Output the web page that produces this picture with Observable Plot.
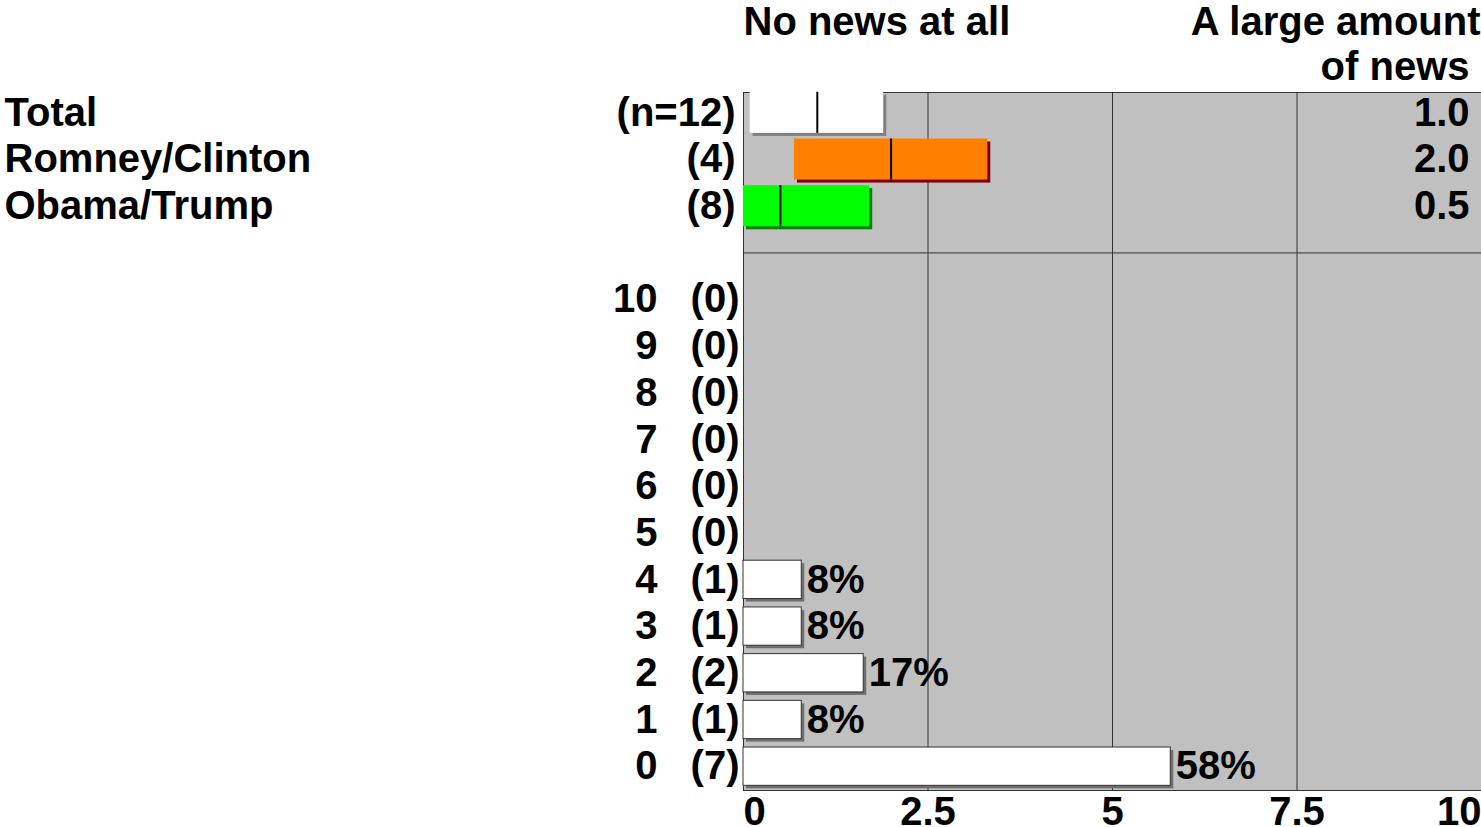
<!DOCTYPE html>
<html>
<head>
<meta charset="utf-8">
<script src="https://cdn.jsdelivr.net/npm/d3@7"></script>
<script src="https://cdn.jsdelivr.net/npm/@observablehq/plot@0.6"></script>
<style>
  html, body { margin: 0; padding: 0; background: #ffffff; }
  #chart svg { display: block; }
</style>
</head>
<body>
<div id="chart"></div>
<script>
// ---- Data ----
const groups = ["Total", "Romney/Clinton", "Obama/Trump"];
const groupN = ["(n=12)", "(4)", "(8)"];
const groupMean = [1.0, 2.0, 0.5];
const groupLow = [0.09, 0.69, 0.0];
const groupHigh = [1.9, 3.31, 1.71];

const scores = [10, 9, 8, 7, 6, 5, 4, 3, 2, 1, 0];
const counts = [0, 0, 0, 0, 0, 0, 1, 1, 2, 1, 7];
const percents = [0, 0, 0, 0, 0, 0, 8.3, 8.3, 16.7, 8.3, 58.3];

const tickValues = [0, 2.5, 5, 7.5, 10];
const tickLabels = ["0", "2.5", "5", "7.5", "10"];

const headerLeft = "No news at all";
const headerRight1 = "A large amount";
const headerRight2 = "of news";

// ---- Styles ----
const groupFills = ["#ffffff", "#ff8000", "#00ff00"];
const groupShadows = ["#808080", "#800000", "#008000"];
const FONT = "Liberation Sans, Arial, Helvetica, sans-serif";
const FS = 40;

// ---- Tables built from the arrays ----
const groupData = groups.map((name, i) => ({
  name, n: groupN[i], mean: groupMean[i], low: groupLow[i], high: groupHigh[i],
  row: i, fill: groupFills[i], shadow: groupShadows[i]
}));
const histData = scores.map((s, i) => ({
  score: s, count: counts[i], pct: percents[i], row: 4 + i
}));
const histBars = histData.filter(d => d.count > 0);
const ticks = tickValues.map((v, i) => ({v, label: tickLabels[i]}));

const txt = {fontFamily: FONT, fontSize: FS, fontWeight: "bold", fill: "black"};

const chart = Plot.plot({
  width: 1481,
  height: 827,
  marginLeft: 743,
  marginRight: 0,
  marginTop: 92,
  marginBottom: 37,
  style: {background: "white", overflow: "visible"},
  x: {domain: [0, 10], axis: null},
  y: {type: "linear", domain: [-0.435, 14.51], range: [92, 790], axis: null},
  color: {type: "identity"},
  marks: [
    // background
    Plot.frame({fill: "#c0c0c0", stroke: "none"}),
    // gridlines
    Plot.ruleX([2.5, 5, 7.5], {stroke: "#333333", strokeWidth: 1}),
    // borders
    Plot.ruleX([0], {stroke: "#333333", strokeWidth: 1}),
    Plot.ruleY([-0.435, 3, 14.51], {stroke: "#333333", strokeWidth: 1}),

    // group boxes: shadow, box, median
    Plot.rect(groupData, {x1: "low", x2: "high", y1: d => d.row - 0.44, y2: d => d.row + 0.44,
      fill: "shadow", dx: 3, dy: 3}),
    Plot.rect(groupData, {x1: "low", x2: "high", y1: d => d.row - 0.44, y2: d => d.row + 0.44,
      fill: "fill"}),
    Plot.ruleX(groupData, {x: "mean", y1: d => d.row - 0.44, y2: d => d.row + 0.44,
      stroke: "black", strokeWidth: 2}),

    // histogram bars
    Plot.rect(histBars, {x1: 0, x2: d => d.pct / 10, y1: d => d.row - 0.41, y2: d => d.row + 0.41,
      insetRight: 3, fill: "#6e6e6e", dx: 3, dy: 3}),
    Plot.rect(histBars, {x1: 0, x2: d => d.pct / 10, y1: d => d.row - 0.41, y2: d => d.row + 0.41,
      insetRight: 3, fill: "white", stroke: "#333", strokeWidth: 1}),
    Plot.text(histBars, {x: d => d.pct / 10, y: "row", text: d => Math.round(d.pct) + "%",
      textAnchor: "start", dx: 2, ...txt}),

    // left labels
    Plot.text(groupData, {y: "row", text: "name", frameAnchor: "left", dx: -739,
      textAnchor: "start", ...txt}),
    Plot.text(groupData, {y: "row", text: "n", frameAnchor: "left", dx: -8,
      textAnchor: "end", ...txt}),
    Plot.text(histData, {y: "row", text: d => String(d.score), frameAnchor: "left", dx: -86,
      textAnchor: "end", ...txt}),
    Plot.text(histData, {y: "row", text: d => "(" + d.count + ")", frameAnchor: "left", dx: -4,
      textAnchor: "end", ...txt}),

    // right values
    Plot.text(groupData, {x: 10, y: "row", text: d => d.mean.toFixed(1), textAnchor: "end",
      dx: -12, ...txt}),

    // headers
    Plot.text([headerLeft], {x: 0, y: -1.95, text: d => d, textAnchor: "start", ...txt}),
    Plot.text([headerRight1], {x: 10, y: -1.95, text: d => d, textAnchor: "end", dx: -1, ...txt}),
    Plot.text([headerRight2], {x: 10, y: -0.97, text: d => d, textAnchor: "end", dx: -12, ...txt}),

    // x tick labels
    Plot.text(ticks.filter(t => t.v === tickValues[0]), {x: "v", y: 14.98, text: "label",
      textAnchor: "start", ...txt}),
    Plot.text(ticks.filter(t => t.v !== tickValues[0] && t.v !== tickValues[tickValues.length - 1]),
      {x: "v", y: 14.98, text: "label", textAnchor: "middle", ...txt}),
    Plot.text(ticks.filter(t => t.v === tickValues[tickValues.length - 1]), {x: "v", y: 14.98,
      text: "label", textAnchor: "end", ...txt})
  ]
});
document.getElementById("chart").appendChild(chart);
</script>
</body>
</html>
